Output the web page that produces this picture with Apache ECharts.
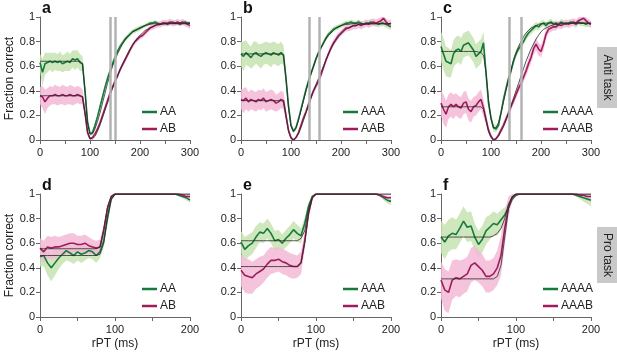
<!DOCTYPE html>
<html lang="en">
<head>
<meta charset="UTF-8">
<title>Fraction correct vs rPT</title>
<style>
  html,body{margin:0;padding:0;background:#fff;}
  #main{width:617px;height:353px;}
</style>
</head>
<body>
<div id="main"></div>
<script src="https://cdn.jsdelivr.net/npm/echarts/dist/echarts.min.js"></script>
<script>
// sample points (ms)
const antiX = [];
for (let t = 0; t <= 300; t += 5) antiX.push(t);
const proX = [];
for (let t = 0; t <= 200; t += 5) proX.push(t);

// ---- panel a (anti task, AA / AB) ----
const aAA = [0.63,0.55,0.62,0.63,0.64,0.63,0.64,0.63,0.64,0.62,0.63,0.64,0.63,0.66,0.65,0.66,0.63,0.62,0.40,0.15,0.05,
  0.06,0.12,0.19,0.27,0.35,0.43,0.50,0.56,0.62,0.67,
  0.72,0.76,0.79,0.82,0.84,0.86,0.88,0.89,0.90,0.91,
  0.92,0.93,0.94,0.95,0.95,0.96,0.95,0.94,0.95,0.95,
  0.94,0.95,0.96,0.95,0.95,0.94,0.95,0.96,0.95,0.95];
const aAAsd = [0.07,0.11,0.09,0.08,0.07,0.08,0.07,0.07,0.08,0.07,0.07,0.08,0.07,0.07,0.08,0.07,0.07,0.06,0.04,0.03,0.02,
  0.02,0.02,0.02,0.02,0.02,0.02,0.025,0.025,0.025,0.025,
  0.02,0.02,0.02,0.02,0.02,0.02,0.02,0.02,0.02,0.02,
  0.015,0.015,0.015,0.015,0.015,0.015,0.015,0.015,0.015,0.015,
  0.015,0.015,0.015,0.015,0.015,0.015,0.015,0.015,0.015,0.015];
const aAAfit = [0.64,0.64,0.64,0.64,0.64,0.64,0.64,0.64,0.64,0.64,0.64,0.64,0.64,0.64,0.64,0.64,0.64,0.62,0.40,0.14,0.05,
  0.05,0.09,0.15,0.22,0.30,0.38,0.46,0.53,0.60,0.65,
  0.70,0.74,0.78,0.81,0.84,0.86,0.88,0.89,0.90,0.91,
  0.92,0.93,0.935,0.94,0.945,0.945,0.945,0.945,0.945,0.945,
  0.945,0.945,0.945,0.945,0.945,0.945,0.945,0.945,0.945,0.945];
const aAB = [0.36,0.35,0.31,0.34,0.36,0.36,0.37,0.36,0.36,0.37,0.36,0.36,0.37,0.36,0.36,0.37,0.36,0.35,0.22,0.06,0.01,
  0.02,0.05,0.09,0.14,0.20,0.26,0.32,0.38,0.43,0.48,
  0.52,0.57,0.61,0.65,0.69,0.73,0.77,0.80,0.82,0.84,
  0.85,0.87,0.89,0.91,0.92,0.93,0.94,0.94,0.95,0.95,
  0.95,0.96,0.95,0.95,0.96,0.95,0.96,0.95,0.94,0.93];
const aABsd = [0.07,0.09,0.10,0.08,0.08,0.07,0.08,0.08,0.07,0.08,0.08,0.07,0.08,0.08,0.07,0.07,0.07,0.06,0.04,0.02,0.01,
  0.01,0.015,0.02,0.02,0.02,0.02,0.02,0.02,0.02,0.02,
  0.02,0.02,0.02,0.02,0.02,0.02,0.02,0.02,0.02,0.02,
  0.02,0.02,0.02,0.02,0.025,0.025,0.025,0.025,0.025,0.025,
  0.025,0.025,0.025,0.025,0.025,0.025,0.025,0.025,0.025,0.025];
const aABfit = [0.36,0.36,0.36,0.36,0.36,0.36,0.36,0.36,0.36,0.36,0.36,0.36,0.36,0.36,0.36,0.36,0.36,0.35,0.22,0.07,0.01,
  0.01,0.03,0.07,0.12,0.18,0.24,0.30,0.36,0.42,0.47,
  0.52,0.57,0.62,0.66,0.70,0.74,0.77,0.80,0.83,0.85,
  0.87,0.89,0.90,0.91,0.92,0.93,0.935,0.94,0.94,0.945,
  0.945,0.95,0.95,0.95,0.95,0.95,0.95,0.95,0.95,0.95];
const aLines = [141, 151];

// ---- panel b (anti task, AAA / AAB) ----
const bAAA = [0.70,0.68,0.71,0.69,0.67,0.70,0.71,0.69,0.68,0.70,0.71,0.70,0.69,0.71,0.70,0.69,0.71,0.69,0.50,0.28,0.12,
  0.07,0.10,0.17,0.25,0.33,0.41,0.48,0.54,0.60,0.66,
  0.71,0.75,0.79,0.83,0.86,0.88,0.90,0.91,0.92,0.93,
  0.94,0.95,0.95,0.96,0.95,0.95,0.96,0.95,0.94,0.95,
  0.95,0.96,0.95,0.95,0.94,0.95,0.95,0.94,0.93,0.92];
const bAAAsd = [0.10,0.12,0.10,0.09,0.09,0.10,0.09,0.09,0.10,0.09,0.09,0.09,0.10,0.09,0.09,0.09,0.09,0.08,0.05,0.03,0.02,
  0.02,0.02,0.02,0.02,0.025,0.025,0.025,0.025,0.025,0.025,
  0.02,0.02,0.02,0.02,0.02,0.02,0.02,0.02,0.02,0.02,
  0.02,0.02,0.02,0.02,0.02,0.02,0.02,0.02,0.02,0.02,
  0.025,0.025,0.025,0.025,0.025,0.025,0.025,0.025,0.025,0.025];
const bAAAfit = [0.70,0.70,0.70,0.70,0.70,0.70,0.70,0.70,0.70,0.70,0.70,0.70,0.70,0.70,0.70,0.70,0.70,0.69,0.50,0.26,0.11,
  0.07,0.10,0.16,0.24,0.32,0.40,0.47,0.54,0.60,0.66,
  0.71,0.75,0.79,0.82,0.85,0.87,0.89,0.91,0.92,0.93,
  0.935,0.94,0.94,0.945,0.945,0.945,0.945,0.945,0.945,0.945,
  0.945,0.945,0.945,0.945,0.945,0.945,0.945,0.945,0.945,0.945];
const bAAB = [0.33,0.32,0.34,0.31,0.33,0.32,0.31,0.33,0.32,0.34,0.31,0.32,0.33,0.32,0.30,0.31,0.33,0.32,0.20,0.08,0.02,
  0.00,0.02,0.06,0.12,0.18,0.23,0.29,0.35,0.40,0.44,
  0.48,0.53,0.59,0.65,0.70,0.75,0.79,0.82,0.85,0.87,
  0.89,0.91,0.91,0.92,0.93,0.93,0.94,0.93,0.94,0.95,
  0.94,0.95,0.96,0.95,0.96,0.97,0.99,0.96,0.94,0.95];
const bAABsd = [0.08,0.10,0.09,0.08,0.08,0.08,0.08,0.08,0.08,0.08,0.08,0.08,0.08,0.08,0.07,0.07,0.07,0.07,0.05,0.03,0.01,
  0.01,0.015,0.02,0.02,0.02,0.025,0.025,0.025,0.025,0.025,
  0.025,0.025,0.025,0.025,0.025,0.025,0.025,0.025,0.025,0.025,
  0.025,0.025,0.025,0.03,0.03,0.03,0.03,0.03,0.03,0.03,
  0.03,0.03,0.03,0.03,0.03,0.03,0.03,0.03,0.03,0.03];
const bAABfit = [0.32,0.32,0.32,0.32,0.32,0.32,0.32,0.32,0.32,0.32,0.32,0.32,0.32,0.32,0.32,0.32,0.32,0.31,0.19,0.07,0.01,
  0.00,0.02,0.05,0.10,0.16,0.22,0.28,0.34,0.40,0.45,
  0.50,0.55,0.60,0.65,0.70,0.74,0.78,0.81,0.84,0.86,
  0.88,0.90,0.91,0.92,0.93,0.93,0.94,0.94,0.94,0.94,
  0.945,0.945,0.945,0.945,0.945,0.945,0.945,0.945,0.945,0.945];
const bLines = [137, 157];

// ---- panel c (anti task, AAAA / AAAB) ----
const cAAAA = [0.76,0.70,0.64,0.63,0.62,0.70,0.73,0.74,0.72,0.77,0.78,0.79,0.76,0.73,0.68,0.70,0.72,0.79,0.55,0.30,0.18,
  0.10,0.09,0.12,0.22,0.33,0.42,0.50,0.56,0.64,0.70,
  0.74,0.77,0.80,0.84,0.87,0.89,0.91,0.93,0.92,0.94,
  0.95,0.93,0.95,0.96,0.94,0.95,0.93,0.96,0.95,0.94,
  0.95,0.96,0.95,0.94,0.96,0.95,0.95,0.94,0.95,0.94];
const cAAAAsd = [0.12,0.13,0.12,0.12,0.11,0.11,0.11,0.11,0.11,0.10,0.10,0.10,0.10,0.10,0.10,0.10,0.10,0.09,0.06,0.04,0.03,
  0.03,0.03,0.03,0.03,0.03,0.03,0.03,0.03,0.03,0.03,
  0.03,0.03,0.03,0.03,0.03,0.03,0.03,0.03,0.03,0.03,
  0.025,0.025,0.025,0.025,0.025,0.025,0.025,0.025,0.025,0.025,
  0.025,0.025,0.025,0.025,0.025,0.025,0.025,0.025,0.025,0.025];
const cAAAAfit = [0.72,0.72,0.72,0.72,0.72,0.72,0.72,0.72,0.72,0.72,0.72,0.72,0.72,0.72,0.72,0.715,0.71,0.69,0.55,0.33,0.17,
  0.10,0.10,0.14,0.22,0.31,0.40,0.49,0.57,0.65,0.71,
  0.76,0.80,0.84,0.87,0.89,0.91,0.92,0.93,0.94,0.945,
  0.95,0.95,0.95,0.95,0.95,0.95,0.95,0.95,0.95,0.95,
  0.95,0.95,0.95,0.95,0.95,0.95,0.95,0.95,0.95,0.95];
const cAAAB = [0.30,0.25,0.21,0.27,0.29,0.27,0.29,0.27,0.26,0.30,0.31,0.25,0.23,0.27,0.28,0.31,0.33,0.26,0.17,0.08,0.03,
  0.00,0.01,0.04,0.08,0.12,0.17,0.22,0.27,0.32,0.37,
  0.42,0.46,0.51,0.56,0.62,0.67,0.74,0.78,0.74,0.72,
  0.78,0.86,0.90,0.91,0.92,0.92,0.94,0.93,0.94,0.95,
  0.94,0.95,0.96,0.95,0.97,0.98,0.99,0.97,0.95,0.94];
const cAAABsd = [0.10,0.12,0.11,0.10,0.10,0.10,0.09,0.09,0.09,0.09,0.09,0.09,0.09,0.08,0.08,0.08,0.08,0.07,0.05,0.03,0.02,
  0.01,0.015,0.02,0.025,0.03,0.03,0.03,0.03,0.03,0.035,
  0.035,0.04,0.04,0.04,0.045,0.05,0.05,0.05,0.05,0.05,
  0.05,0.04,0.035,0.03,0.03,0.03,0.03,0.03,0.03,0.03,
  0.03,0.03,0.03,0.03,0.03,0.03,0.03,0.03,0.03,0.03];
const cAAABfit = [0.27,0.27,0.27,0.27,0.27,0.27,0.27,0.27,0.27,0.27,0.27,0.27,0.27,0.27,0.27,0.27,0.27,0.25,0.16,0.07,0.02,
  0.00,0.01,0.03,0.07,0.11,0.16,0.22,0.28,0.34,0.40,
  0.46,0.52,0.58,0.64,0.69,0.74,0.78,0.82,0.85,0.88,
  0.90,0.91,0.92,0.93,0.935,0.94,0.94,0.945,0.945,0.95,
  0.95,0.95,0.95,0.95,0.95,0.95,0.95,0.95,0.95,0.95];
const cLines = [137, 161];

// ---- panel d (pro task, AA / AB) ----
const dAA = [0.49,0.50,0.44,0.40,0.44,0.48,0.51,0.54,0.52,0.50,0.53,0.51,0.52,0.54,0.53,0.50,0.53,0.62,0.80,0.96,1.00,
  1.00,1.00,1.00,1.00,1.00,1.00,1.00,1.00,1.00,1.00,1.00,1.00,1.00,1.00,1.00,1.00,
  0.99,0.98,0.97,0.95];
const dAAsd = [0.08,0.09,0.10,0.11,0.10,0.09,0.08,0.08,0.07,0.07,0.07,0.07,0.06,0.06,0.06,0.06,0.05,0.05,0.04,0.02,0.005,
  0.005,0.005,0.005,0.005,0.005,0.005,0.005,0.005,0.005,0.005,0.005,0.005,0.005,0.005,0.005,0.005,
  0.01,0.015,0.02,0.02];
const dAAfit = [0.50,0.50,0.50,0.50,0.50,0.50,0.50,0.50,0.50,0.50,0.50,0.50,0.50,0.50,0.50,0.50,0.51,0.60,0.82,0.96,0.995,
  1.00,1.00,1.00,1.00,1.00,1.00,1.00,1.00,1.00,1.00,1.00,1.00,1.00,1.00,1.00,1.00,
  1.00,1.00,1.00,1.00];
const dAB = [0.56,0.53,0.57,0.56,0.57,0.57,0.58,0.59,0.60,0.60,0.59,0.59,0.60,0.58,0.57,0.56,0.57,0.70,0.88,0.98,1.00,
  1.00,1.00,1.00,1.00,1.00,1.00,1.00,1.00,1.00,1.00,1.00,1.00,1.00,1.00,1.00,1.00,
  1.00,0.99,0.98,0.98];
const dABsd = [0.08,0.09,0.09,0.09,0.09,0.08,0.08,0.08,0.08,0.08,0.07,0.07,0.07,0.07,0.06,0.06,0.06,0.05,0.03,0.01,0.005,
  0.005,0.005,0.005,0.005,0.005,0.005,0.005,0.005,0.005,0.005,0.005,0.005,0.005,0.005,0.005,0.005,
  0.01,0.01,0.015,0.015];
const dABfit = [0.555,0.555,0.555,0.555,0.555,0.555,0.555,0.555,0.555,0.555,0.555,0.555,0.555,0.555,0.555,0.555,0.57,0.72,0.90,0.98,1.00,
  1.00,1.00,1.00,1.00,1.00,1.00,1.00,1.00,1.00,1.00,1.00,1.00,1.00,1.00,1.00,1.00,
  1.00,1.00,1.00,1.00];

// ---- panel e (pro task, AAA / AAB) ----
const eAAA = [0.61,0.55,0.58,0.60,0.65,0.69,0.68,0.72,0.68,0.62,0.63,0.60,0.64,0.67,0.71,0.68,0.66,0.76,0.90,0.98,1.00,
  1.00,1.00,1.00,1.00,1.00,1.00,1.00,1.00,1.00,1.00,1.00,1.00,1.00,1.00,1.00,1.00,
  0.99,0.97,0.95,0.94];
const eAAAsd = [0.09,0.10,0.09,0.09,0.09,0.08,0.08,0.08,0.08,0.08,0.08,0.07,0.07,0.07,0.07,0.07,0.06,0.05,0.03,0.01,0.005,
  0.005,0.005,0.005,0.005,0.005,0.005,0.005,0.005,0.005,0.005,0.005,0.005,0.005,0.005,0.005,0.005,
  0.01,0.02,0.025,0.03];
const eAAAfit = [0.62,0.62,0.62,0.62,0.62,0.62,0.62,0.62,0.62,0.62,0.62,0.62,0.62,0.62,0.62,0.62,0.64,0.70,0.88,0.97,1.00,
  1.00,1.00,1.00,1.00,1.00,1.00,1.00,1.00,1.00,1.00,1.00,1.00,1.00,1.00,1.00,1.00,
  1.00,1.00,1.00,1.00];
const eAAB = [0.38,0.34,0.33,0.32,0.35,0.37,0.39,0.43,0.46,0.46,0.47,0.45,0.44,0.42,0.41,0.41,0.44,0.62,0.84,0.97,1.00,
  1.00,1.00,1.00,1.00,1.00,1.00,1.00,1.00,1.00,1.00,1.00,1.00,1.00,1.00,1.00,1.00,
  0.99,0.98,0.97,0.97];
const eAABsd = [0.13,0.14,0.14,0.13,0.12,0.12,0.11,0.11,0.11,0.10,0.10,0.10,0.10,0.10,0.10,0.09,0.09,0.07,0.04,0.02,0.005,
  0.005,0.005,0.005,0.005,0.005,0.005,0.005,0.005,0.005,0.005,0.005,0.005,0.005,0.005,0.005,0.005,
  0.01,0.01,0.015,0.015];
const eAABfit = [0.41,0.41,0.41,0.41,0.41,0.41,0.41,0.41,0.41,0.41,0.41,0.41,0.41,0.41,0.41,0.41,0.44,0.60,0.84,0.97,1.00,
  1.00,1.00,1.00,1.00,1.00,1.00,1.00,1.00,1.00,1.00,1.00,1.00,1.00,1.00,1.00,1.00,
  1.00,1.00,1.00,1.00];

// ---- panel f (pro task, AAAA / AAAB) ----
const fAAAA = [0.65,0.61,0.66,0.68,0.67,0.72,0.78,0.73,0.74,0.65,0.59,0.63,0.70,0.73,0.76,0.75,0.79,0.83,0.89,0.96,0.99,
  1.00,1.00,1.00,1.00,1.00,1.00,1.00,1.00,1.00,1.00,1.00,1.00,1.00,1.00,1.00,
  0.99,0.98,0.97,0.96,0.95];
const fAAAAsd = [0.13,0.14,0.13,0.13,0.12,0.12,0.12,0.12,0.12,0.11,0.11,0.11,0.11,0.10,0.10,0.09,0.08,0.06,0.04,0.02,0.01,
  0.005,0.005,0.005,0.005,0.005,0.005,0.005,0.005,0.005,0.005,0.005,0.005,0.005,0.005,0.005,
  0.01,0.02,0.03,0.04,0.05];
const fAAAAfit = [0.65,0.65,0.65,0.65,0.65,0.65,0.65,0.65,0.65,0.65,0.65,0.65,0.65,0.65,0.66,0.68,0.72,0.80,0.92,0.98,1.00,
  1.00,1.00,1.00,1.00,1.00,1.00,1.00,1.00,1.00,1.00,1.00,1.00,1.00,1.00,1.00,
  1.00,1.00,1.00,1.00,1.00];
const fAAAB = [0.30,0.22,0.20,0.30,0.32,0.31,0.33,0.35,0.42,0.44,0.41,0.38,0.33,0.33,0.35,0.40,0.50,0.72,0.90,0.97,1.00,
  1.00,1.00,1.00,1.00,1.00,1.00,1.00,1.00,1.00,1.00,1.00,1.00,1.00,1.00,1.00,1.00,
  0.99,0.99,0.98,0.98];
const fAAABsd = [0.15,0.17,0.17,0.16,0.15,0.15,0.14,0.14,0.14,0.14,0.13,0.13,0.13,0.13,0.13,0.14,0.16,0.14,0.08,0.03,0.01,
  0.005,0.005,0.005,0.005,0.005,0.005,0.005,0.005,0.005,0.005,0.005,0.005,0.005,0.005,0.005,0.005,
  0.01,0.02,0.03,0.03];
const fAAABfit = [0.31,0.31,0.31,0.31,0.31,0.31,0.31,0.31,0.31,0.31,0.31,0.31,0.31,0.31,0.31,0.33,0.42,0.65,0.88,0.98,1.00,
  1.00,1.00,1.00,1.00,1.00,1.00,1.00,1.00,1.00,1.00,1.00,1.00,1.00,1.00,1.00,1.00,
  1.00,1.00,1.00,1.00];

const GREEN = '#157a3b', PINK = '#9e1c5a';
const GBAND = '#c6e3b0', PBAND = '#f4b9d7', FIT = '#2b2b2b';
const lefts = [40, 241, 441];
const tops = [17, 194];

const panels = [
  {x: antiX, max: 300, letter: 'a', lines: aLines, names: ['AA', 'AB'], g: [aAA, aAAsd, aAAfit], p: [aAB, aABsd, aABfit]},
  {x: antiX, max: 300, letter: 'b', lines: bLines, names: ['AAA', 'AAB'], g: [bAAA, bAAAsd, bAAAfit], p: [bAAB, bAABsd, bAABfit]},
  {x: antiX, max: 300, letter: 'c', lines: cLines, names: ['AAAA', 'AAAB'], g: [cAAAA, cAAAAsd, cAAAAfit], p: [cAAAB, cAAABsd, cAAABfit]},
  {x: proX, max: 200, letter: 'd', lines: [], names: ['AA', 'AB'], g: [dAA, dAAsd, dAAfit], p: [dAB, dABsd, dABfit]},
  {x: proX, max: 200, letter: 'e', lines: [], names: ['AAA', 'AAB'], g: [eAAA, eAAAsd, eAAAfit], p: [eAAB, eAABsd, eAABfit]},
  {x: proX, max: 200, letter: 'f', lines: [], names: ['AAAA', 'AAAB'], g: [fAAAA, fAAAAsd, fAAAAfit], p: [fAAAB, fAAABsd, fAAABfit]}
];

panels.forEach(pn => {
  [...pn.g, ...pn.p].forEach(arr => {
    if (arr.length !== pn.x.length) throw new Error('length mismatch in panel ' + pn.letter + ': ' + arr.length);
  });
});

const grid = [], xAxis = [], yAxis = [], series = [], legend = [], graphic = [];
const txt = '#222', axisCol = '#666';

panels.forEach((pn, i) => {
  const col = i % 3, row = Math.floor(i / 3);
  grid.push({left: lefts[col], top: tops[row], width: 150, height: 123});
  xAxis.push({
    gridIndex: i, type: 'value', min: 0, max: pn.max, interval: 50,
    axisLine: {lineStyle: {color: axisCol}},
    axisTick: {length: 4, lineStyle: {color: axisCol}},
    splitLine: {show: false},
    axisLabel: {fontSize: 11, color: txt, fontFamily: 'Liberation Sans', margin: 7,
      formatter: v => (v % 100 === 0 ? String(v) : '')},
    name: row === 1 ? 'rPT (ms)' : '', nameLocation: 'middle', nameGap: 21,
    nameTextStyle: {fontSize: 12, color: txt, fontFamily: 'Liberation Sans'}
  });
  yAxis.push({
    gridIndex: i, type: 'value', min: 0, max: 1, interval: 0.2,
    axisLine: {show: true, lineStyle: {color: axisCol}},
    axisTick: {show: true, length: 4, lineStyle: {color: axisCol}},
    splitLine: {show: false},
    axisLabel: {fontSize: 11, color: txt, fontFamily: 'Liberation Sans', margin: 5},
    name: col === 0 ? 'Fraction correct' : '', nameLocation: 'middle', nameGap: 24, nameRotate: 90,
    nameTextStyle: {fontSize: 12, color: txt, fontFamily: 'Liberation Sans'}
  });

  // shaded band (mean ± spread) as one polygon, placed via the axis scales
  const addBand = (mean, sd, color) => {
    series.push({
      type: 'custom', xAxisIndex: i, yAxisIndex: i, silent: true, z: 1,
      data: [[pn.x[0], mean[0]]],
      renderItem: (params, api) => {
        const up = [], lo = [];
        pn.x.forEach((t, k) => {
          up.push(api.coord([t, mean[k] + sd[k]]));
          lo.push(api.coord([t, mean[k] - sd[k]]));
        });
        const pts = echarts.graphic.clipPointsByRect(up.concat(lo.reverse()), params.coordSys);
        return {type: 'polygon', shape: {points: pts}, style: {fill: color, opacity: 0.85}};
      }
    });
  };
  addBand(pn.g[0], pn.g[1], GBAND);
  addBand(pn.p[0], pn.p[1], PBAND);

  if (pn.lines.length) {
    series.push({
      type: 'line', xAxisIndex: i, yAxisIndex: i, data: [], z: 2, silent: true,
      markLine: {silent: true, symbol: 'none', label: {show: false}, animation: false,
        lineStyle: {color: '#b3b3b3', width: 2.5, type: 'solid'},
        data: pn.lines.map(v => ({xAxis: v}))}
    });
  }

  const addLine = (name, data, color, width, z) => {
    series.push({
      name: name, type: 'line', xAxisIndex: i, yAxisIndex: i, symbol: 'none', z: z,
      color: color, lineStyle: {color: color, width: width}, emphasis: {disabled: true},
      data: data.map((v, k) => [pn.x[k], v])
    });
  };
  addLine(pn.names[0], pn.g[0], GREEN, 1.6, 3);
  addLine(pn.names[1], pn.p[0], PINK, 1.6, 3);
  addLine(null, pn.g[2], FIT, 0.8, 4);
  addLine(null, pn.p[2], FIT, 0.8, 4);

  legend.push({
    data: pn.names, orient: 'vertical', left: lefts[col] + 97, top: tops[row] + 84,
    icon: 'rect', itemWidth: 15, itemHeight: 2.5, itemGap: 5, selectedMode: false,
    textStyle: {fontSize: 12, color: txt, fontFamily: 'Liberation Sans', padding: [0, 0, 0, -2]}
  });

  graphic.push({
    type: 'text', left: lefts[col] + 2, top: tops[row] - 16,
    style: {text: pn.letter, fontSize: 16, fontWeight: 'bold', fill: '#111', fontFamily: 'Liberation Sans'}
  });
});

// side boxes
[['Anti task', 47, 61], ['Pro task', 227, 56]].forEach(([label, y, h]) => {
  graphic.push({type: 'rect', shape: {x: 597, y: y, width: 20, height: h}, style: {fill: '#c9c9c9'}});
  graphic.push({
    type: 'text', x: 607, y: y + h / 2, rotation: -Math.PI / 2,
    style: {text: label, fontSize: 12, fill: txt, fontFamily: 'Liberation Sans', align: 'center', verticalAlign: 'middle'}
  });
});

const chart = echarts.init(document.getElementById('main'));
chart.setOption({
  animation: false,
  backgroundColor: '#fff',
  grid: grid, xAxis: xAxis, yAxis: yAxis,
  legend: legend, series: series, graphic: graphic
});
</script>
</body>
</html>
